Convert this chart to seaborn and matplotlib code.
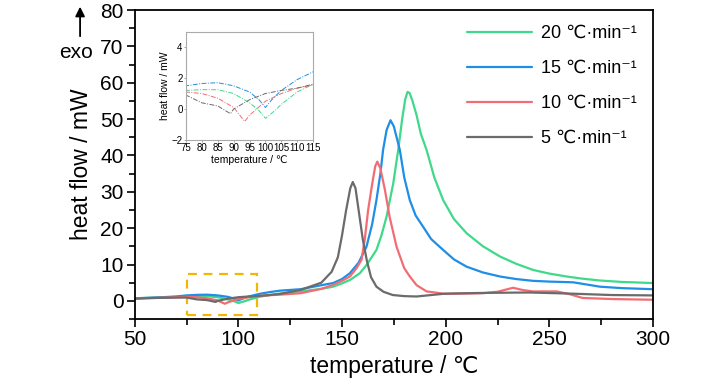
import numpy as np
import pandas as pd
from matplotlib import pyplot as plt
from matplotlib.patches import Rectangle, FancyArrowPatch
from matplotlib.ticker import MultipleLocator
import seaborn as sns

sns.set_style('ticks')
plt.rcParams['font.family'] = ['Liberation Sans', 'DejaVu Sans']
for k in ['text.color', 'axes.labelcolor', 'xtick.color', 'ytick.color']:
    plt.rcParams[k] = 'black'

# DSC curves (temperature in °C, heat flow in mW)
t_5 = [50, 60, 70, 75, 80, 85, 89, 90, 95, 100, 105, 110, 115, 120, 130, 140, 145, 148, 150, 152,
       154, 155.2, 156.5, 158, 160, 162, 164, 166.6, 170, 174.5, 180, 186, 200, 220, 240, 260, 280, 300]
hf_5 = [0.6, 0.8, 0.9, 0.9, 0.4, 0.2, -0.3, 0.0, 0.6, 1.0, 1.2, 1.35, 1.6, 1.9, 3.0, 5.0, 8.0, 12, 18, 25,
        31, 32.7, 31, 25, 17, 11, 6.5, 3.9, 2.5, 1.6, 1.3, 1.2, 2.0, 2.2, 2.3, 2.0, 1.6, 1.5]

t_10 = [50, 60, 70, 75, 80, 85, 90, 93.5, 95, 100, 105, 110, 115, 120, 130, 140, 145.7, 150, 153.8, 157,
        159.4, 161, 162.6, 164.5, 166, 167, 168.5, 170.7, 173, 176.3, 180, 182.7, 186, 190.8, 200, 218,
        225, 232.5, 237, 242, 253.5, 260, 266, 280, 300]
hf_10 = [0.7, 0.8, 1.0, 1.1, 1.0, 0.7, 0.1, -0.8, -0.4, 0.5, 1.0, 1.35, 1.55, 1.7, 2.1, 3.3, 4.4, 5.5, 6.7, 9,
         11.3, 17, 25, 32, 37, 38.3, 36.5, 30.5, 23, 14.9, 9, 6.7, 4.3, 2.6, 1.9, 2.1,
         2.5, 3.6, 3.0, 2.6, 2.6, 1.8, 0.8, 0.5, 0.3]

t_15 = [50, 60, 70, 75, 80, 85, 90, 95, 98, 100, 102, 105, 110, 115, 120, 130, 140, 145.7, 150, 153.8,
        158, 161.8, 164.5, 166.6, 168.5, 169.8, 171.5, 173.4, 175, 177.9, 180, 182.7, 185.5, 189.1, 193,
        198.8, 204, 210.1, 218, 226.2, 234, 242.2, 250, 261.5, 268, 274.4, 285, 300]
hf_15 = [0.7, 0.9, 1.2, 1.5, 1.65, 1.7, 1.5, 1.1, 0.6, 0.1, 0.6, 1.2, 1.9, 2.4, 2.8, 3.2, 4.3, 4.9, 6.0, 7.6,
         10.5, 14.9, 21, 27.7, 35, 41.5, 47, 49.7, 48, 41.5, 34, 27.7, 23.5, 20.4, 17,
         14, 11.4, 9.4, 7.8, 6.7, 6.0, 5.5, 5.3, 5.1, 4.5, 3.9, 3.5, 3.2]

t_20 = [50, 60, 70, 75, 80, 85, 90, 95, 98, 100, 103, 105, 110, 115, 120, 130, 140, 145.7, 150, 154,
        158.6, 162, 166.6, 169, 171.5, 174.7, 177.1, 179, 180.5, 181.6, 182.6, 184, 186, 188, 190.8, 194.5,
        198.8, 204, 210.1, 218, 226.2, 234, 242.2, 250, 258.3, 266, 274.4, 285, 300]
hf_20 = [0.7, 0.9, 1.1, 1.2, 1.25, 1.25, 1.0, 0.4, -0.1, -0.6, -0.1, 0.3, 1.1, 1.6, 2.0, 2.6, 3.3, 3.9, 4.8, 5.8,
         7.6, 10, 14, 18, 23.2, 32.3, 41.5, 50, 55.5, 57.5, 57.2, 55, 51, 46, 41.5, 34,
         27.7, 22.5, 18.6, 15, 12.2, 10.2, 8.5, 7.5, 6.7, 6.1, 5.6, 5.2, 4.9]

rates = ['20 ℃·min⁻¹', '15 ℃·min⁻¹', '10 ℃·min⁻¹', '5 ℃·min⁻¹']
colors = ['#3fd98a', '#1f8ee6', '#f26d73', '#6b6b6b']

# region marked by the dashed box
box_t = (75, 109)
box_hf = (-4, 7.5)

df = pd.concat([
    pd.DataFrame({'T': t_20, 'HF': hf_20, 'rate': rates[0]}),
    pd.DataFrame({'T': t_15, 'HF': hf_15, 'rate': rates[1]}),
    pd.DataFrame({'T': t_10, 'HF': hf_10, 'rate': rates[2]}),
    pd.DataFrame({'T': t_5, 'HF': hf_5, 'rate': rates[3]}),
])
pal = dict(zip(rates, colors))

fig = plt.figure(figsize=(7.28, 3.9), dpi=100)
ax = fig.add_axes([0.185, 0.182, 0.712, 0.792])
sns.lineplot(data=df, x='T', y='HF', hue='rate', hue_order=rates, palette=pal,
             estimator=None, sort=False, lw=1.6, ax=ax)

ax.set_xlim(50, 300)
ax.set_ylim(-5, 80)
ax.xaxis.set_major_locator(MultipleLocator(50))
ax.xaxis.set_minor_locator(MultipleLocator(25))
ax.yaxis.set_major_locator(MultipleLocator(10))
ax.yaxis.set_minor_locator(MultipleLocator(5))
ax.tick_params(which='major', direction='out', length=6, width=1.2, labelsize=15, color='black', pad=2)
ax.tick_params(which='minor', direction='out', length=4, width=1.2, color='black')
for s in ax.spines.values():
    s.set_color('black')
    s.set_linewidth(1.3)
ax.set_xlabel('temperature / ℃', fontsize=16.5, labelpad=4)
ax.set_ylabel('heat flow / mW', fontsize=16.5, labelpad=5)

leg = ax.legend(loc='upper right', bbox_to_anchor=(1.0, 1.005), frameon=False, fontsize=13,
                handlelength=3.6, handletextpad=0.5, labelspacing=1.0)
for line in leg.get_lines():
    line.set_linewidth(1.6)

ax.add_patch(Rectangle((box_t[0], box_hf[0]), box_t[1] - box_t[0], box_hf[1] - box_hf[0],
                       fill=False, edgecolor='#f2b705', linestyle=(0, (4, 3)), lw=1.6))

# exo arrow outside the axes
fig.text(0.105, 0.865, 'exo', fontsize=15, ha='center', va='center')
fig.patches.append(FancyArrowPatch(
    (0.11, 0.9), (0.11, 0.99), transform=fig.transFigure, arrowstyle='-|>',
    mutation_scale=14, lw=1.3, color='black'))

# inset zoom
ins = fig.add_axes([0.2555, 0.641, 0.1745, 0.278])
sns.lineplot(data=df, x='T', y='HF', hue='rate', hue_order=rates, palette=pal,
             estimator=None, sort=False, lw=0.7, ax=ins, legend=False)
for line in ins.get_lines():
    line.set_linestyle((0, (5, 1.5, 1, 1.5)))
ins.set_xlim(75, 115)
ins.set_ylim(-2, 5)
ins.xaxis.set_major_locator(MultipleLocator(5))
ins.yaxis.set_major_locator(MultipleLocator(2))
ins.tick_params(length=1.5, width=0.6, labelsize=7, pad=1, color='#999999')
for s in ins.spines.values():
    s.set_color('#aaaaaa')
    s.set_linewidth(0.8)
ins.set_xlabel('temperature / ℃', fontsize=7.5, labelpad=1)
ins.set_ylabel('heat flow / mW', fontsize=7.5, labelpad=1)

fig.savefig('out.png', dpi=100)
